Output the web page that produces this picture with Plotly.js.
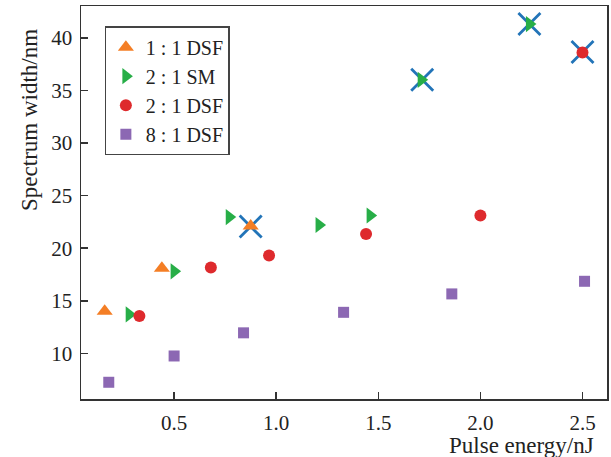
<!DOCTYPE html>
<html>
<head>
<meta charset="utf-8">
<script src="https://cdn.plot.ly/plotly-3.0.1.min.js"></script>
<style>html,body{margin:0;padding:0;background:#fff;}#chart{width:611px;height:457px;}</style>
</head>
<body>
<div id="chart"></div>
<script>
// Data
const dsf11_x = [0.16, 0.44, 0.875];
const dsf11_y = [14.0, 18.1, 22.1];

const sm21_x = [0.28, 0.50, 0.77, 1.21, 1.46, 1.71, 2.24];
const sm21_y = [13.7, 17.8, 22.95, 22.2, 23.1, 36.0, 41.3];

const dsf21_x = [0.33, 0.68, 0.965, 1.44, 2.0, 2.50];
const dsf21_y = [13.55, 18.15, 19.3, 21.35, 23.1, 38.6];

const dsf81_x = [0.18, 0.50, 0.84, 1.33, 1.86, 2.51];
const dsf81_y = [7.25, 9.75, 11.95, 13.9, 15.65, 16.85];

const mark_x = [0.875, 1.715, 2.24, 2.50];
const mark_y = [22.05, 36.0, 41.3, 38.65];

const seriesNames = ["1 : 1 DSF", "2 : 1 SM", "2 : 1 DSF", "8 : 1 DSF"];
const xTickVals = [0.5, 1.0, 1.5, 2.0, 2.5];
const xTickText = ["0.5", "1.0", "1.5", "2.0", "2.5"];
const yTickVals = [10, 15, 20, 25, 30, 35, 40];
const xTitle = "Pulse energy/nJ";
const yTitle = "Spectrum width/nm";

const font = "Liberation Serif, Times New Roman, serif";
const fs = 21;

const traces = [
  {x: mark_x, y: mark_y, type: "scatter", mode: "markers", showlegend: false,
   marker: {symbol: "x-thin", size: 22, line: {width: 2.8, color: "#2274b8"}}},
  {x: dsf11_x, y: dsf11_y, name: seriesNames[0], type: "scatter", mode: "markers",
   marker: {symbol: "triangle-up", size: 14, color: "#f47e25"}},
  {x: sm21_x, y: sm21_y, name: seriesNames[1], type: "scatter", mode: "markers",
   marker: {symbol: "triangle-right", size: 14, color: "#27ae47"}},
  {x: dsf21_x, y: dsf21_y, name: seriesNames[2], type: "scatter", mode: "markers",
   marker: {symbol: "circle", size: 12, color: "#de2a2d"}},
  {x: dsf81_x, y: dsf81_y, name: seriesNames[3], type: "scatter", mode: "markers",
   marker: {symbol: "square", size: 11, color: "#8c68b3"}}
];

const axisCommon = {
  showgrid: false, zeroline: false, showline: true, mirror: true,
  linecolor: "#333", linewidth: 1.5,
  ticks: "inside", ticklen: 7, tickwidth: 1.5, tickcolor: "#333",
  tickfont: {family: font, size: fs, color: "#222"}
};

const layout = {
  width: 611, height: 457,
  margin: {l: 81, r: 4, t: 6, b: 58},
  paper_bgcolor: "#fff", plot_bgcolor: "#fff",
  font: {family: font, color: "#222"},
  xaxis: Object.assign({}, axisCommon, {range: [0.044, 2.62], tickvals: xTickVals, ticktext: xTickText, ticklabelstandoff: 4}),
  yaxis: Object.assign({}, axisCommon, {range: [5.66, 43.02], tickvals: yTickVals, ticklabelstandoff: 3}),
  showlegend: true,
  legend: {
    x: 0.045, y: 0.948, xanchor: "left", yanchor: "top",
    bordercolor: "#444", borderwidth: 1.2, bgcolor: "#fff",
    font: {family: font, size: 20, color: "#222"},
    traceorder: "normal", itemsizing: "trace",
    entrywidth: 112, entrywidthmode: "pixels"
  },
  annotations: [
    {text: yTitle, xref: "paper", yref: "paper", x: -0.097, y: 0.71, xanchor: "center", yanchor: "middle",
     textangle: -90, showarrow: false, font: {family: font, size: 23, color: "#222"}},
    {text: xTitle, xref: "paper", yref: "paper", x: 0.979, y: -0.118, xanchor: "right", yanchor: "middle",
     showarrow: false, font: {family: font, size: 23, color: "#222"}}
  ]
};

Plotly.newPlot("chart", traces, layout, {displayModeBar: false, staticPlot: true});
</script>
</body>
</html>
